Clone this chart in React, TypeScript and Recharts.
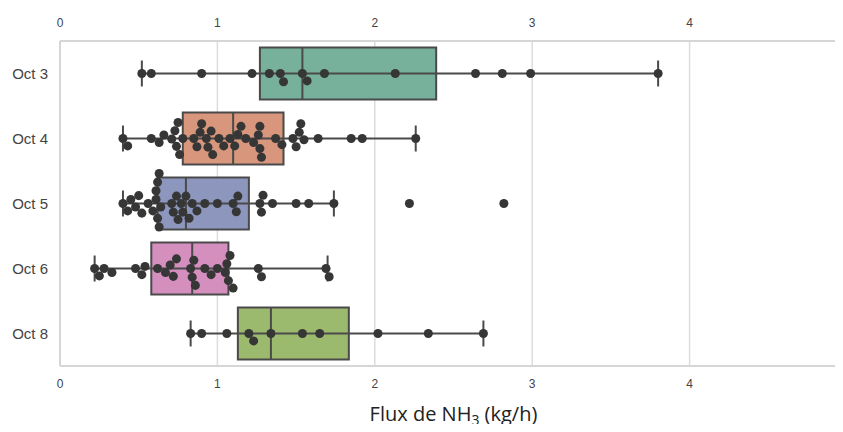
import React from 'react';
import {
  ComposedChart,
  XAxis,
  YAxis,
  ZAxis,
  CartesianGrid,
  Scatter,
  ReferenceArea,
  ReferenceLine,
} from 'recharts';

// ---------- data ----------
const categories = ['Oct 3', 'Oct 4', 'Oct 5', 'Oct 6', 'Oct 8'];

const oct3 = [0.52, 0.58, 0.9, 1.22, 1.33, 1.4, 1.42, 1.54, 1.57, 1.68, 2.13, 2.64, 2.81, 2.99, 3.8];
const oct4 = [
  0.4, 0.43, 0.58, 0.63, 0.66, 0.71, 0.73, 0.74, 0.75, 0.76, 0.78, 0.85, 0.87, 0.89, 0.9, 0.93,
  0.94, 0.96, 0.97, 1.01, 1.04, 1.08, 1.11, 1.13, 1.15, 1.18, 1.23, 1.26, 1.27, 1.27, 1.28, 1.37,
  1.41, 1.48, 1.5, 1.52, 1.53, 1.55, 1.64, 1.85, 1.92, 2.26,
];
const oct5 = [
  0.4, 0.43, 0.45, 0.48, 0.5, 0.52, 0.56, 0.59, 0.61, 0.61, 0.62, 0.62, 0.63, 0.63, 0.64, 0.71,
  0.72, 0.74, 0.75, 0.77, 0.78, 0.8, 0.82, 0.84, 0.87, 0.92, 1.0, 1.1, 1.12, 1.13, 1.27, 1.28,
  1.29, 1.35, 1.5, 1.58, 1.74, 2.22, 2.82,
];
const oct6 = [
  0.22, 0.25, 0.28, 0.33, 0.48, 0.52, 0.54, 0.62, 0.67, 0.7, 0.72, 0.74, 0.83, 0.84, 0.85, 0.86,
  0.92, 0.96, 1.0, 1.05, 1.06, 1.07, 1.08, 1.1, 1.26, 1.28, 1.69, 1.71,
];
const oct8 = [0.83, 0.9, 1.06, 1.2, 1.23, 1.34, 1.54, 1.65, 2.02, 2.34, 2.69];

const seriesValues = [oct3, oct4, oct5, oct6, oct8];

// box statistics
const q1 = [1.27, 0.78, 0.62, 0.58, 1.13];
const median = [1.54, 1.1, 0.8, 0.84, 1.34];
const q3 = [2.39, 1.42, 1.2, 1.07, 1.835];
const whiskerLow = [0.52, 0.4, 0.4, 0.22, 0.83];
const whiskerHigh = [3.8, 2.26, 1.74, 1.7, 2.69];

const xTicks = [0, 1, 2, 3, 4, 5];
const yTicks = [0, 1, 2, 3, 4];

// ---------- styling ----------
const boxColors = ['#77b09b', '#d8977c', '#8d97be', '#d58fbf', '#9cba6e'];
const EDGE = '#4a4a4a';
const DOT = '#363636';
const SPINE = '#d6d6d6';

const CHART_W = 860;
const CHART_H = 432;
const MARGIN = { top: 0, right: 13, bottom: 0, left: 0 };
const Y_AXIS_W = 60;
const TOP_AXIS_H = 41;
const BOTTOM_AXIS_H = 66;
const X_DOMAIN: [number, number] = [0, 5];
const Y_DOMAIN: [number, number] = [-0.5, 4.5];

// pixel scale factors used only for beeswarm collision layout
const PLOT_W = CHART_W - MARGIN.left - MARGIN.right - Y_AXIS_W;
const PLOT_H = CHART_H - TOP_AXIS_H - BOTTOM_AXIS_H;
const KX = PLOT_W / (X_DOMAIN[1] - X_DOMAIN[0]);
const KY = PLOT_H / (Y_DOMAIN[1] - Y_DOMAIN[0]);
const DOT_D = 8.8;

function swarm(values: number[]): { v: number; off: number }[] {
  const sorted = [...values].sort((a, b) => a - b);
  const placed: { x: number; y: number; v: number }[] = [];
  for (const v of sorted) {
    const x = v * KX;
    const neighbors = placed.filter((q) => Math.abs(q.x - x) < DOT_D);
    const cands = [0];
    for (const q of neighbors) {
      const dy = Math.sqrt(DOT_D * DOT_D - (q.x - x) * (q.x - x));
      cands.push(q.y + dy, q.y - dy);
    }
    cands.sort((a, b) => Math.abs(a) - Math.abs(b));
    let chosen = 0;
    for (const c of cands) {
      const ok = neighbors.every(
        (q) => (q.x - x) * (q.x - x) + (q.y - c) * (q.y - c) >= DOT_D * DOT_D - 0.01
      );
      if (ok) {
        chosen = c;
        break;
      }
    }
    placed.push({ x, y: chosen, v });
  }
  return placed.map((p) => ({ v: p.v, off: p.y / KY }));
}

const points = seriesValues.flatMap((vals, i) =>
  swarm(vals).map((p) => ({ x: p.v, y: i + p.off }))
);

const renderTitle = (props: any) => {
  const vb = props.viewBox || { x: 60, y: 366, width: 787, height: 66 };
  return (
    <text
      x={vb.x + vb.width / 2}
      y={vb.y + 55}
      textAnchor="middle"
      fontFamily="'Open Sans', sans-serif"
      fontSize={20}
      fill="#222"
    >
      Flux de NH
      <tspan fontSize={14} dy={4}>
        3
      </tspan>
      <tspan dy={-4}> (kg/h)</tspan>
    </text>
  );
};

const tickStyle = { fontFamily: "'Liberation Sans', Arial, sans-serif", fontSize: 12, fill: '#444' };

const NoShape = () => null;

export default function App() {
  return (
    <div style={{ margin: -8, width: 843, height: 432, overflow: 'hidden', background: '#fff' }}>
      <ComposedChart width={CHART_W} height={CHART_H} margin={MARGIN}>
        <CartesianGrid
          horizontal={false}
          stroke="#dcdcdc"
          strokeWidth={1.5}
          xAxisId="bottom"
          yAxisId="y"
        />
        <XAxis
          xAxisId="top"
          orientation="top"
          type="number"
          dataKey="x"
          domain={X_DOMAIN}
          ticks={xTicks}
          height={TOP_AXIS_H}
          tickLine={false}
          tickSize={0}
          tickMargin={14}
          axisLine={{ stroke: SPINE, strokeWidth: 2 }}
          tick={tickStyle}
          allowDataOverflow
        />
        <XAxis
          xAxisId="bottom"
          orientation="bottom"
          type="number"
          dataKey="x"
          domain={X_DOMAIN}
          ticks={xTicks}
          height={BOTTOM_AXIS_H}
          tickLine={false}
          tickSize={0}
          tickMargin={13}
          axisLine={{ stroke: SPINE, strokeWidth: 2 }}
          tick={tickStyle}
          label={renderTitle}
          allowDataOverflow
        />
        <YAxis
          yAxisId="y"
          type="number"
          dataKey="y"
          domain={Y_DOMAIN}
          ticks={yTicks}
          reversed
          width={Y_AXIS_W}
          tickLine={false}
          tickSize={0}
          tickMargin={12}
          axisLine={{ stroke: SPINE, strokeWidth: 2 }}
          tick={{ ...tickStyle, fontSize: 15 }}
          tickFormatter={(v: number) => categories[v] ?? ''}
          allowDataOverflow
        />
        <ZAxis range={[64, 64]} />
        {categories.map((c, i) => (
          <ReferenceLine
            key={`wl-${c}`}
            xAxisId="bottom"
            yAxisId="y"
            segment={[
              { x: whiskerLow[i], y: i },
              { x: whiskerHigh[i], y: i },
            ]}
            stroke={EDGE}
            strokeWidth={2}
          />
        ))}
        {categories.map((c, i) => (
          <ReferenceArea
            key={`box-${c}`}
            xAxisId="bottom"
            yAxisId="y"
            x1={q1[i]}
            x2={q3[i]}
            y1={i - 0.4}
            y2={i + 0.4}
            fill={boxColors[i]}
            fillOpacity={1}
            stroke={EDGE}
            strokeWidth={2}
          />
        ))}
        {categories.map((c, i) => (
          <ReferenceLine
            key={`med-${c}`}
            xAxisId="bottom"
            yAxisId="y"
            segment={[
              { x: median[i], y: i - 0.4 },
              { x: median[i], y: i + 0.4 },
            ]}
            stroke={EDGE}
            strokeWidth={2}
          />
        ))}
        {categories.map((c, i) => (
          <ReferenceLine
            key={`capl-${c}`}
            xAxisId="bottom"
            yAxisId="y"
            segment={[
              { x: whiskerLow[i], y: i - 0.2 },
              { x: whiskerLow[i], y: i + 0.2 },
            ]}
            stroke={EDGE}
            strokeWidth={2}
          />
        ))}
        {categories.map((c, i) => (
          <ReferenceLine
            key={`caph-${c}`}
            xAxisId="bottom"
            yAxisId="y"
            segment={[
              { x: whiskerHigh[i], y: i - 0.2 },
              { x: whiskerHigh[i], y: i + 0.2 },
            ]}
            stroke={EDGE}
            strokeWidth={2}
          />
        ))}
        <Scatter
          data={points}
          xAxisId="top"
          yAxisId="y"
          dataKey="y"
          fill="none"
          shape={NoShape}
          isAnimationActive={false}
        />
        <Scatter
          data={points}
          xAxisId="bottom"
          yAxisId="y"
          dataKey="y"
          fill={DOT}
          shape="circle"
          isAnimationActive={false}
        />
      </ComposedChart>
    </div>
  );
}
